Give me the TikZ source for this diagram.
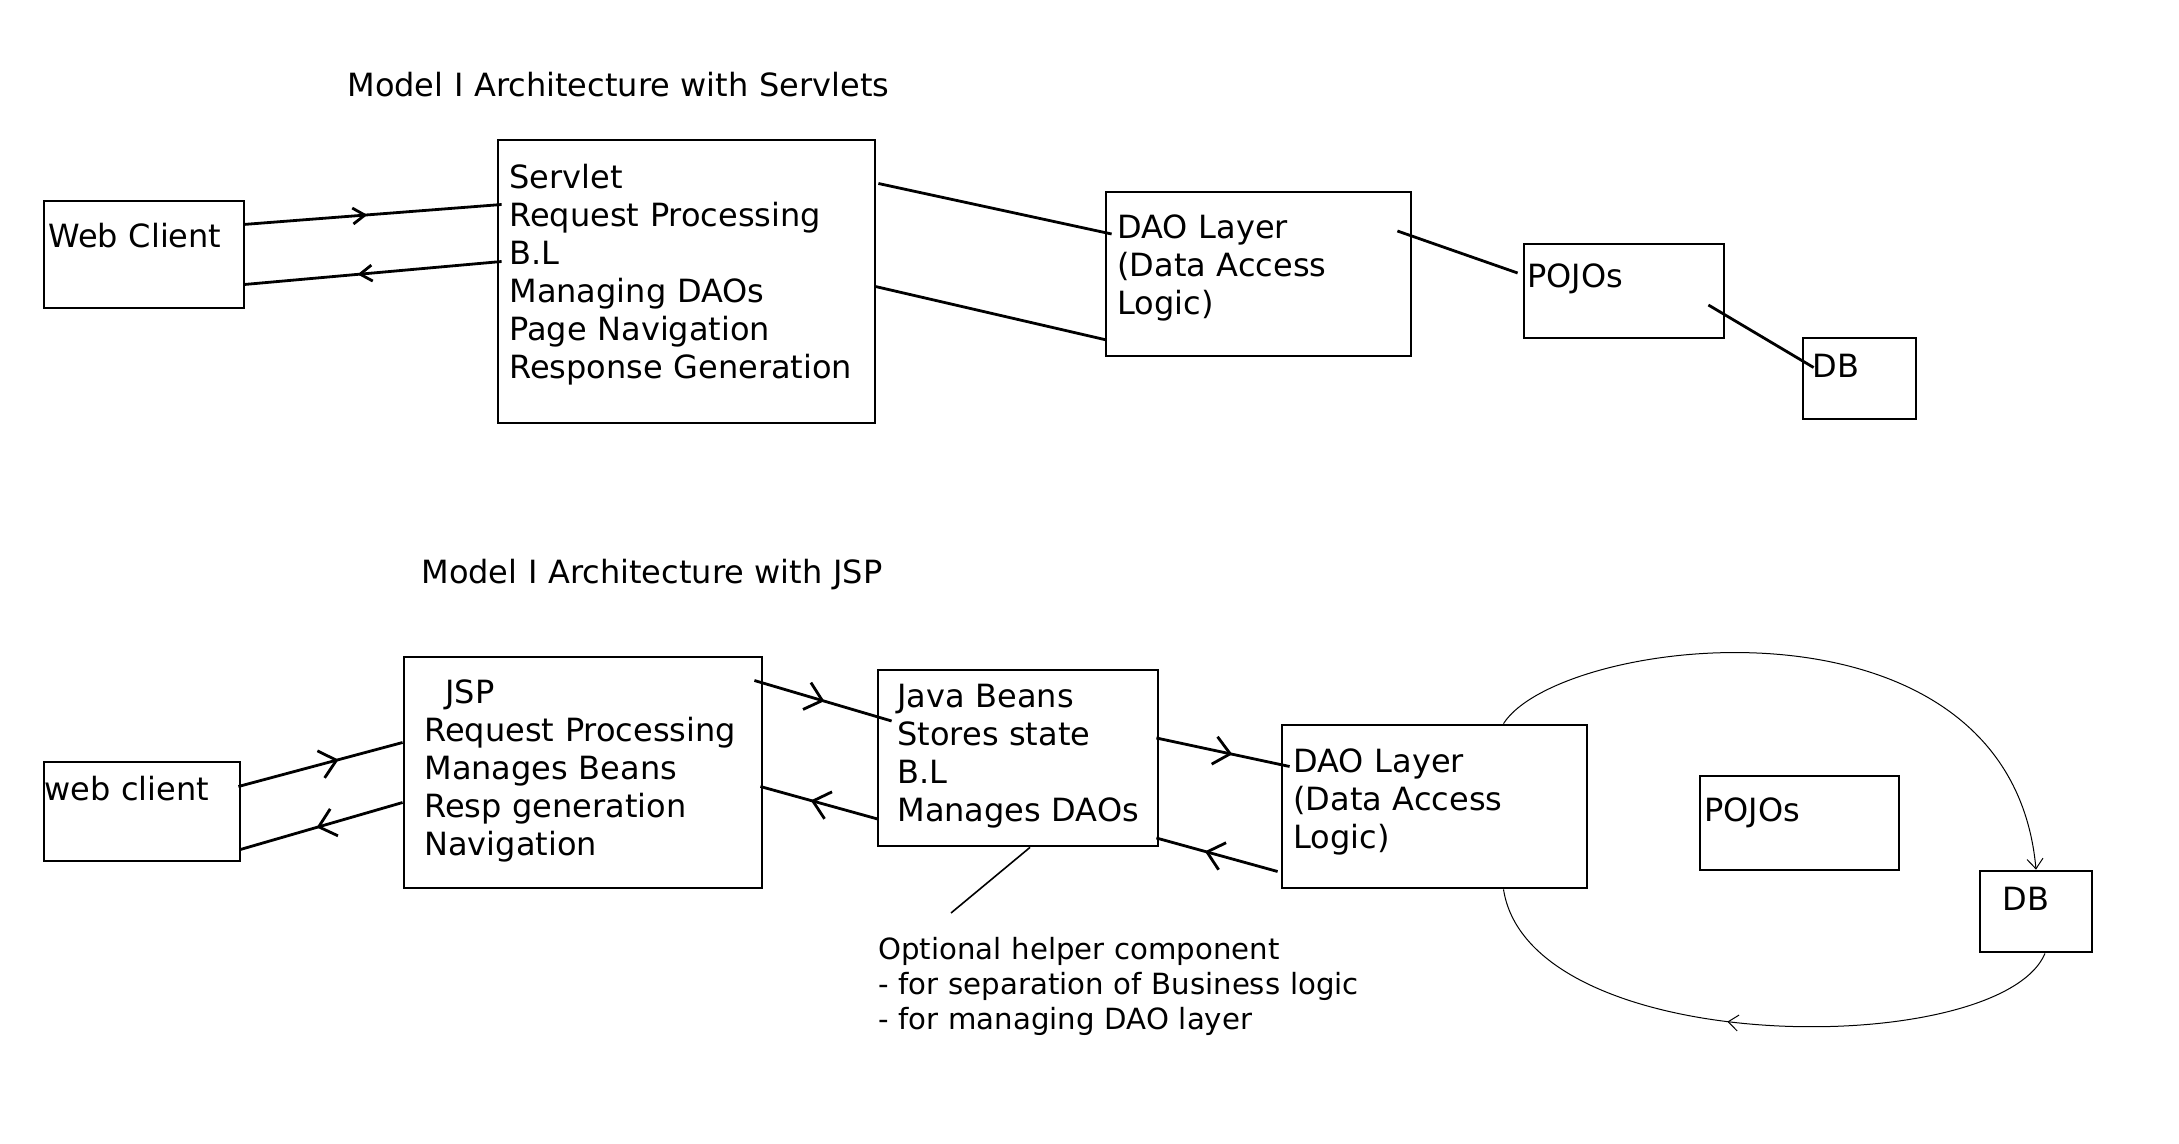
\documentclass[tikz,border=0pt]{standalone}
\usepackage{fontspec}
\setmainfont{DejaVu Sans}
\usetikzlibrary{calc,positioning,arrows.meta,decorations.markings,fit}
\tikzset{
    every node/.style={
        font=\fontsize{16pt}{19pt}\selectfont
    },
    box/.style={
        shape=rectangle,
        draw,
        line width=1.4pt,
        inner sep=0pt
    },
    txt/.style={
        anchor=base west,
        inner sep=0pt,
        text width=300pt,
        align=left
    }
}

\begin{document}
\begin{tikzpicture}[
			x=0.5pt, y=-0.5pt,
			link/.style={line width=1.4pt},
			thinline/.style={line width=0.5pt},
			mid/.style={postaction={decorate}, decoration={markings,
				mark=at position #1 with {\arrow{Straight Barb[length=6pt,width=8pt]}}}},
			bigmid/.style={postaction={decorate}, decoration={markings,
				mark=at position #1 with {\arrow{Straight Barb[length=8pt,width=14pt]}}}},
			thinmid/.style={postaction={decorate}, decoration={markings,
				mark=at position #1 with {\arrow{Straight Barb[length=5pt,width=8pt]}}}},
			small/.style={font=\fontsize{14.6pt}{17.5pt}\selectfont}
			]
			\useasboundingbox (0,0) rectangle (2179,1144);

			% Model I with servlets
			\node (title1) at (347,97) [txt] {Model I Architecture with Servlets};

			\node (wc1) [box, fit={(44,201) (244,308)}] {};
			\node (wc1T) at (48,248) [txt] {Web Client};
			\node (srv) [box, fit={(498,140) (875,423)}] {};
			\node (srvT) at (509,189) [txt] {Servlet\\Request Processing\\B.L\\Managing DAOs\\Page Navigation\\Response Generation};
			\node (dao1) [box, fit={(1106,192) (1411,356)}] {};
			\node (dao1T) at (1117,239) [txt] {DAO Layer\\(Data Access\\Logic)};
			\node (pojo1) [box, fit={(1524,244) (1724,338)}] {};
			\node (pojo1T) at (1527,288) [txt] {POJOs};
			\node (db1) [box, fit={(1803,338) (1916,419)}] {};
			\node (db1T) at (1812,378) [txt] {DB};

			\draw [link, mid=0.48] ($(wc1.east)+(-2,-30)$) -- ($(srv.west)+(5,-77)$);
			\draw [link, mid=0.56] ($(srv.west)+(5,-20)$) -- ($(wc1.east)+(-1,30)$);
			\draw [link] ($(srv.east)+(2,-98)$) -- ($(dao1.west)+(7,-40)$);
			\draw [link] ($(srv.east)+(-1,5)$) -- ($(dao1.west)+(2,66)$);
			\draw [link] ($(dao1.east)+(-15,-43)$) -- ($(pojo1.west)+(-5,-18)$);
			\draw [link] ($(pojo1.east)+(-17,14)$) -- ($(db1.west)+(12,-11)$);

			% Model I with JSP
			\node (title2) at (421,583) [txt] {Model I Architecture with JSP};

			\node (wc2) [box, fit={(44,762) (240,861)}] {};
			\node (wc2T) at (44,800) [txt] {web client};
			\node (jsp) [box, fit={(404,657) (762,888)}] {};
			\node (jspT) at (424,703) [txt] {\hspace*{10.5pt}JSP\\Request Processing\\Manages Beans\\Resp generation\\Navigation};
			\node (bean) [box, fit={(878,670) (1158,846)}] {};
			\node (beanT) at (897,707) [txt] {Java Beans\\Stores state\\B.L\\Manages DAOs};
			\node (dao2) [box, fit={(1282,725) (1587,888)}] {};
			\node (dao2T) at (1293,772) [txt] {DAO Layer\\(Data Access\\Logic)};
			\node (pojo2) [box, fit={(1700,776) (1899,870)}] {};
			\node (pojo2T) at (1704,821) [txt] {POJOs};
			\node (db2) [box, fit={(1980,871) (2092,952)}] {};
			\node (db2T) at (2002,910) [txt] {DB};

			\node (note) at (878,959) [txt, small] {Optional helper component\\- for separation of Business logic\\- for managing DAO layer};

			\draw [link, bigmid=0.61] ($(wc2.east)+(-3,-25)$) -- ($(jsp.west)+(0,-30)$);
			\draw [link, bigmid=0.53] ($(jsp.west)+(0,30)$) -- ($(wc2.east)+(-1,38)$);
			\draw [link, bigmid=0.51] ($(jsp.east)+(-9,-92)$) -- ($(bean.west)+(15,-37)$);
			\draw [link, bigmid=0.57] ($(bean.west)+(1,61)$) -- ($(jsp.east)+(-3,14)$);
			\draw [link, bigmid=0.57] ($(bean.east)+(-3,-20)$) -- ($(dao2.west)+(9,-40)$);
			\draw [link, bigmid=0.6] ($(dao2.west)+(-3,65)$) -- ($(bean.east)+(-3,80)$);
			\draw [line width=0.8pt] ($(bean.south)+(12,0)$) -- ($(note.base west)+(73,-46)$);

			\draw [thinline, -{Straight Barb[length=5pt,width=8pt]}] ($(dao2.north)+(69,0)$) .. controls (1560,635) and (2010,580) .. (db2.north);
			\draw [thinline, thinmid=0.55] ($(db2.south)+(9,0)$) .. controls (2000,1060) and (1530,1060) .. ($(dao2.south)+(69,0)$);
		\end{tikzpicture}
\end{document}
